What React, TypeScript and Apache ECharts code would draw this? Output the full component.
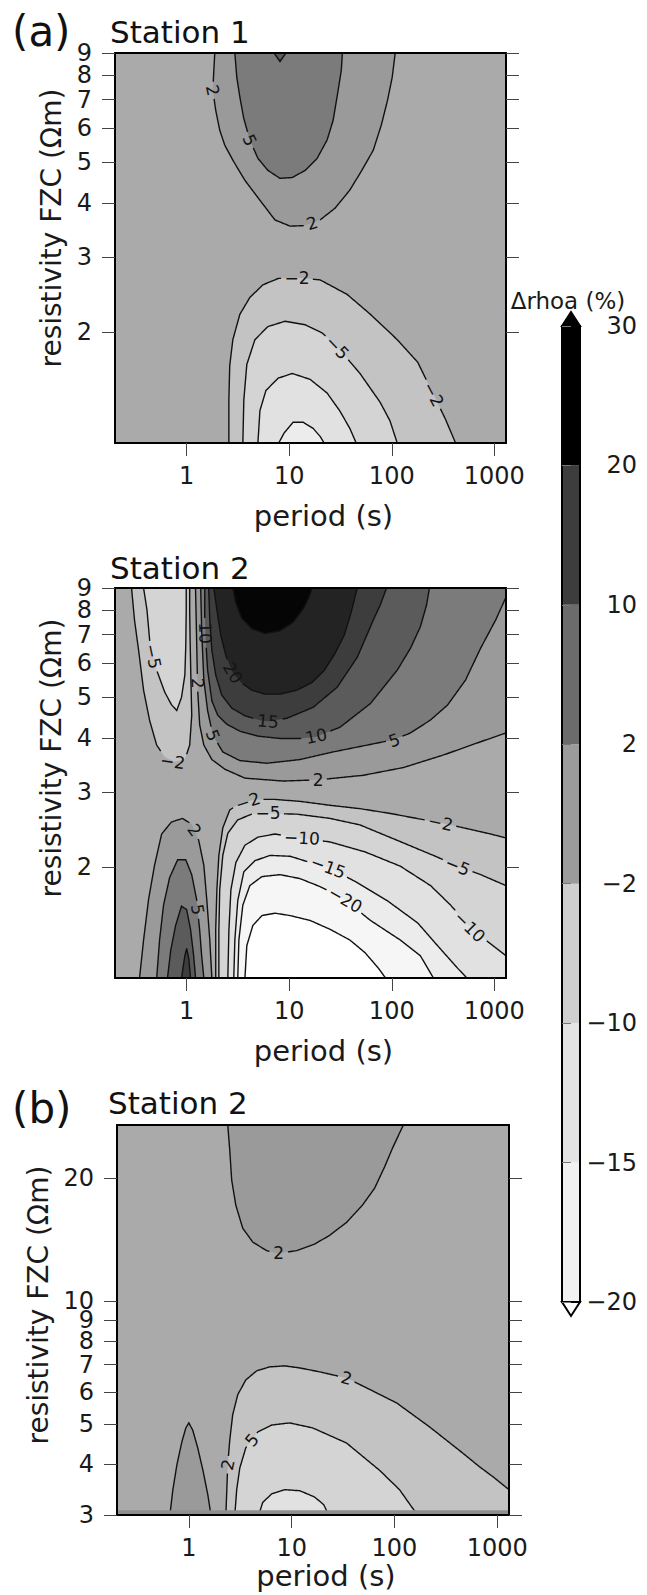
import React, { useEffect, useRef } from 'react';
import * as echarts from 'echarts';

type Pt = [number, number];

const FONT = 'DejaVu Sans';

// axis ranges: period (s) and resistivity FZC (Ωm)
const PERIOD_MIN = 0.2;
const PERIOD_MAX = 1300;
const RHO_MIN_A = 1.1;
const RHO_MAX_A = 9;
const RHO_MIN_B = 3;
const RHO_MAX_B = 27;

const periodTicks = [1, 10, 100, 1000];
const rhoTicksA = [2, 3, 4, 5, 6, 7, 8, 9];
const rhoTicksB = [3, 4, 5, 6, 7, 8, 9, 10, 20];
// tick labels that sit too close to a neighbour are put on a second label row
const rhoCrowdedA = [8];
const rhoCrowdedB = [8, 10];

// colour bar
const cbLevels = [-20, -15, -10, -2, 2, 10, 20, 30];
const cbColors = ['#f1f1f1', '#e4e4e4', '#cfcfcf', '#9b9b9b', '#6b6b6b', '#3d3d3d', '#000000'];

// contour level bands -> grey fills
const bandEdges = [-30, -20, -15, -10, -5, -2, 2, 5, 10, 15, 20, 30];
const bandGrays = ['#ffffff', '#f6f6f6', '#ececec', '#e1e1e1', '#d4d4d4', '#c3c3c3', '#aaaaaa', '#9a9a9a', '#7b7b7b', '#5b5b5b', '#3d3d3d', '#232323', '#050505'];

// ---------- (a) Station 1 contours [period, resistivity] ----------
const c1_p2: Pt[] = [[1.88, 9], [1.84, 8.2], [1.8, 7.36], [1.92, 6.61], [2.1, 5.94], [2.35, 5.48], [2.82, 5.05], [3.7, 4.53], [5.18, 4.07], [7.26, 3.66], [10.2, 3.54], [14.3, 3.55], [20, 3.66], [28, 3.9], [39, 4.3], [51, 4.78], [66, 5.33], [79, 6.1], [91, 6.98], [101, 7.9], [108, 9]];
const c1_p5: Pt[] = [[2.95, 9], [3.08, 7.9], [3.3, 7.1], [3.6, 6.33], [4.13, 5.63], [4.95, 5.1], [6.2, 4.78], [8.13, 4.58], [10.7, 4.6], [14.3, 4.78], [18.7, 5.1], [23.4, 5.63], [26.8, 6.26], [30, 7.36], [32.2, 8.2], [33, 9]];
const c1_p10: Pt[] = [[7.1, 9], [8.13, 8.6], [9.3, 9]];
const c1_m2: Pt[] = [[2.58, 1.1], [2.58, 1.39], [2.63, 1.67], [2.82, 1.92], [3.3, 2.2], [4.13, 2.41], [5.54, 2.58], [7.8, 2.67], [11.9, 2.68], [20, 2.65], [36.7, 2.45], [62, 2.2], [113, 1.92], [179, 1.7], [255, 1.43], [334, 1.25], [419, 1.1]];
const c1_m5: Pt[] = [[3.53, 1.1], [3.61, 1.39], [3.86, 1.68], [4.63, 1.92], [6.2, 2.06], [9.1, 2.12], [14.3, 2.08], [21, 1.99], [31, 1.82], [49, 1.6], [77, 1.37], [96, 1.24], [113, 1.1]];
const c1_m10: Pt[] = [[4.95, 1.1], [5.18, 1.31], [5.93, 1.46], [7.8, 1.56], [10.7, 1.6], [16, 1.55], [23.4, 1.44], [31, 1.31], [39, 1.19], [45, 1.1]];
const c1_m15: Pt[] = [[7.9, 1.1], [8.9, 1.16], [10.9, 1.23], [13.7, 1.23], [17.1, 1.19], [20, 1.14], [21.9, 1.1]];

// ---------- (a) Station 2 contours ----------
const c2_m2L: Pt[] = [[0.29, 9], [0.31, 7.57], [0.34, 6.43], [0.38, 5.19], [0.435, 4.41], [0.51, 3.86], [0.61, 3.62], [0.76, 3.53], [0.96, 3.57], [1.07, 3.86], [1.12, 4.53], [1.1, 5.48], [1.08, 6.8], [1.07, 7.9], [1.07, 9]];
const c2_m5L: Pt[] = [[0.38, 9], [0.41, 8.0], [0.44, 6.61], [0.51, 5.78], [0.61, 5.14], [0.71, 4.8], [0.8, 4.65], [0.89, 4.99], [0.96, 5.63], [0.98, 6.61], [0.99, 8.0], [0.99, 9]];
const c2_p2U: Pt[] = [[1.22, 9], [1.25, 6.8], [1.28, 5.19], [1.34, 4.3], [1.47, 3.86], [1.76, 3.57], [2.35, 3.39], [3.7, 3.23], [8.7, 3.18], [19.1, 3.2], [52.7, 3.28], [130, 3.42], [320, 3.66], [736, 3.93], [1300, 4.12]];
const c2_p5U: Pt[] = [[1.37, 9], [1.4, 7.16], [1.47, 5.48], [1.6, 4.65], [1.8, 4.07], [2.25, 3.72], [3.3, 3.55], [6.06, 3.5], [12.7, 3.57], [26.8, 3.72], [57.6, 3.86], [103, 3.97], [152, 4.12], [239, 4.42], [350, 4.79], [524, 5.48], [736, 6.51], [1030, 7.57], [1300, 8.57]];
const c2_p10U: Pt[] = [[1.5, 9], [1.5, 7.78], [1.53, 6.9], [1.6, 5.78], [1.76, 4.9], [2.01, 4.53], [2.46, 4.32], [3.3, 4.16], [4.95, 4.05], [8.13, 4.0], [12.7, 4.0], [17.9, 4.03], [31.3, 4.25], [62, 4.83], [113, 5.78], [152, 6.5], [190, 7.3], [218, 8.2], [233, 9]];
const c2_p15U: Pt[] = [[1.64, 9], [1.68, 7.57], [1.76, 6.43], [1.92, 5.63], [2.2, 5.05], [2.76, 4.71], [3.7, 4.52], [5.18, 4.41], [6.2, 4.39], [9.5, 4.46], [17.1, 4.73], [29.3, 5.27], [46, 6.19], [66, 7.57], [77, 8.2], [89, 9]];
const c2_p20U: Pt[] = [[1.84, 9], [1.97, 8.0], [2.15, 6.98], [2.41, 6.26], [2.82, 5.7], [3.45, 5.39], [4.32, 5.19], [5.8, 5.08], [8.13, 5.08], [11.9, 5.19], [16.7, 5.41], [21.8, 5.76], [28, 6.33], [34.4, 6.98], [40, 7.86], [46, 9]];
const c2_p30U: Pt[] = [[2.82, 9], [3.02, 8.3], [3.45, 7.65], [4.32, 7.23], [5.8, 7.04], [8.13, 7.15], [10.9, 7.48], [13.7, 8.05], [15.6, 8.57], [16.7, 9]];
const c2_p2L: Pt[] = [[0.347, 1.1], [0.38, 1.35], [0.425, 1.68], [0.486, 2.02], [0.57, 2.39], [0.71, 2.55], [0.91, 2.6], [1.12, 2.52], [1.31, 2.31], [1.47, 2.02], [1.57, 1.68], [1.68, 1.35], [1.76, 1.1]];
const c2_p5L: Pt[] = [[0.51, 1.1], [0.544, 1.35], [0.595, 1.63], [0.682, 1.89], [0.816, 2.08], [0.98, 2.08], [1.12, 1.92], [1.25, 1.68], [1.34, 1.42], [1.4, 1.24], [1.47, 1.1]];
const c2_p10L: Pt[] = [[0.65, 1.1], [0.7, 1.28], [0.78, 1.46], [0.89, 1.62], [1.0, 1.59], [1.09, 1.43], [1.17, 1.24], [1.22, 1.1]];
const c2_p15L: Pt[] = [[0.89, 1.1], [0.96, 1.24], [1.0, 1.29], [1.05, 1.22], [1.09, 1.1]];
const c2_m2R: Pt[] = [[1.92, 1.1], [1.92, 1.43], [1.97, 1.77], [2.06, 2.13], [2.25, 2.47], [2.63, 2.72], [3.3, 2.82], [4.63, 2.88], [7.26, 2.88], [12.7, 2.85], [25, 2.79], [49, 2.74], [97, 2.67], [190, 2.59], [299, 2.54], [587, 2.45], [920, 2.39], [1300, 2.34]];
const c2_m5R: Pt[] = [[2.06, 1.1], [2.06, 1.42], [2.1, 1.77], [2.25, 2.13], [2.52, 2.4], [3.15, 2.58], [4.32, 2.66], [6.2, 2.67], [11.9, 2.66], [25, 2.6], [49, 2.51], [113, 2.31], [279, 2.11], [438, 2.01], [736, 1.92], [1300, 1.81]];
const c2_m10R: Pt[] = [[2.52, 1.1], [2.58, 1.42], [2.7, 1.77], [3.02, 2.05], [3.7, 2.25], [4.95, 2.35], [7.26, 2.39], [12.7, 2.34], [25, 2.29], [55, 2.17], [121, 2.01], [239, 1.81], [374, 1.63], [548, 1.47], [823, 1.35], [1300, 1.24]];
const c2_m15R: Pt[] = [[2.88, 1.1], [2.95, 1.35], [3.15, 1.67], [3.61, 1.95], [4.63, 2.07], [6.5, 2.13], [10.2, 2.12], [16, 2.05], [23.9, 2.0], [46, 1.84], [90, 1.67], [179, 1.48], [279, 1.31], [438, 1.16], [540, 1.1]];
const c2_m20R: Pt[] = [[3.15, 1.1], [3.23, 1.35], [3.53, 1.63], [4.13, 1.81], [5.42, 1.9], [8.13, 1.92], [12.7, 1.88], [20, 1.8], [33.6, 1.69], [62, 1.5], [121, 1.35], [190, 1.24], [255, 1.1]];
const c2_m30R: Pt[] = [[3.7, 1.1], [3.86, 1.31], [4.42, 1.46], [5.42, 1.54], [7.26, 1.56], [10.2, 1.54], [16, 1.5], [25, 1.43], [39, 1.35], [55, 1.26], [74, 1.16], [87, 1.1]];

// ---------- (b) Station 2 contours ----------
const c3_p2U: Pt[] = [[2.39, 27], [2.5, 23.4], [2.61, 19.8], [2.86, 17.2], [3.34, 15.1], [4.18, 13.96], [5.72, 13.3], [7.31, 13.1], [11.2, 13.3], [16.7, 13.8], [23.4, 14.5], [34.2, 15.6], [48.9, 17.2], [64, 18.9], [80, 21.3], [95.7, 23.7], [112, 25.8], [122, 27]];
const c3_p2L: Pt[] = [[0.654, 3], [0.699, 3.46], [0.765, 3.98], [0.855, 4.53], [0.935, 4.9], [1.0, 5.04], [1.09, 4.84], [1.22, 4.38], [1.37, 3.86], [1.53, 3.36], [1.64, 3]];
const c3_m2: Pt[] = [[2.29, 3], [2.34, 3.46], [2.39, 3.98], [2.5, 4.58], [2.67, 5.28], [2.99, 5.91], [3.58, 6.42], [4.57, 6.76], [6.11, 6.91], [8.55, 6.95], [12, 6.87], [18.7, 6.72], [34.2, 6.49], [53.5, 6.14], [105, 5.64], [219, 4.93], [457, 4.26], [669, 3.94], [935, 3.7], [1300, 3.46]];
const c3_m5: Pt[] = [[2.8, 3], [2.92, 3.46], [3.13, 3.91], [3.58, 4.38], [4.68, 4.79], [6.4, 4.98], [9.56, 5.04], [16, 4.9], [34.2, 4.5], [71.5, 3.86], [112, 3.46], [167, 3]];
const c3_m10: Pt[] = [[4.78, 3], [5.23, 3.22], [6.4, 3.38], [8.55, 3.46], [12, 3.44], [16.7, 3.32], [20.5, 3.18], [22.9, 3]];
const c3_strip: number[] = [3, 3.08];

// contour labels: text, period, resistivity, angle, index of the contour it sits on
interface Label { t: string; p: number; r: number; a: number; k: number }
const labels1: Label[] = [
  { t: '2', p: 1.8, r: 7.36, a: -78, k: 0 },
  { t: '5', p: 4.13, r: 5.63, a: -65, k: 1 },
  { t: '2', p: 16.7, r: 3.6, a: 18, k: 0 },
  { t: '−2', p: 11.9, r: 2.68, a: 0, k: 3 },
  { t: '−5', p: 29.4, r: 1.84, a: -46, k: 4 },
  { t: '−2', p: 255, r: 1.43, a: -62, k: 3 },
];
const labels2: Label[] = [
  { t: '10', p: 1.52, r: 7.06, a: -88, k: 4 },
  { t: '2', p: 1.28, r: 5.39, a: -88, k: 2 },
  { t: '20', p: 2.82, r: 5.7, a: -60, k: 6 },
  { t: '5', p: 1.8, r: 4.07, a: -68, k: 3 },
  { t: '15', p: 6.2, r: 4.39, a: -5, k: 5 },
  { t: '10', p: 18.3, r: 4.05, a: 12, k: 4 },
  { t: '5', p: 106, r: 3.96, a: 20, k: 3 },
  { t: '2', p: 19.1, r: 3.2, a: 0, k: 2 },
  { t: '−5', p: 0.47, r: 6.23, a: -78, k: 1 },
  { t: '−2', p: 0.73, r: 3.53, a: -8, k: 0 },
  { t: '2', p: 1.19, r: 2.44, a: -54, k: 8 },
  { t: '5', p: 1.28, r: 1.59, a: -80, k: 9 },
  { t: '−2', p: 3.95, r: 2.85, a: 18, k: 12 },
  { t: '−5', p: 6.2, r: 2.67, a: 0, k: 13 },
  { t: '−10', p: 13.3, r: 2.34, a: -3, k: 14 },
  { t: '−15', p: 24, r: 2.0, a: -20, k: 15 },
  { t: '−20', p: 35.2, r: 1.68, a: -30, k: 16 },
  { t: '−2', p: 299, r: 2.54, a: -12, k: 12 },
  { t: '−5', p: 438, r: 2.01, a: -22, k: 13 },
  { t: '−10', p: 574, r: 1.45, a: -45, k: 14 },
];
const labels3: Label[] = [
  { t: '2', p: 7.48, r: 13.1, a: 0, k: 0 },
  { t: '2', p: 34.2, r: 6.49, a: -15, k: 2 },
  { t: '5', p: 4.1, r: 4.58, a: 50, k: 3 },
  { t: '2', p: 2.39, r: 3.98, a: 78, k: 2 },
];

interface Contour { pts: Pt[]; level: number; close?: Pt[] }

const panel1: Contour[] = [
  { pts: c1_p2, level: 2 }, { pts: c1_p5, level: 5 }, { pts: c1_p10, level: 10 },
  { pts: c1_m2, level: -2 }, { pts: c1_m5, level: -5 }, { pts: c1_m10, level: -10 }, { pts: c1_m15, level: -15 },
];
const panel2: Contour[] = [
  { pts: c2_m2L, level: -2 }, { pts: c2_m5L, level: -5 },
  { pts: c2_p2U, level: 2, close: [[PERIOD_MAX, RHO_MAX_A]] }, { pts: c2_p5U, level: 5, close: [[PERIOD_MAX, RHO_MAX_A]] },
  { pts: c2_p10U, level: 10 }, { pts: c2_p15U, level: 15 }, { pts: c2_p20U, level: 20 }, { pts: c2_p30U, level: 30 },
  { pts: c2_p2L, level: 2 }, { pts: c2_p5L, level: 5 }, { pts: c2_p10L, level: 10 }, { pts: c2_p15L, level: 15 },
  { pts: c2_m2R, level: -2, close: [[PERIOD_MAX, RHO_MIN_A]] }, { pts: c2_m5R, level: -5, close: [[PERIOD_MAX, RHO_MIN_A]] },
  { pts: c2_m10R, level: -10, close: [[PERIOD_MAX, RHO_MIN_A]] }, { pts: c2_m15R, level: -15 }, { pts: c2_m20R, level: -20 }, { pts: c2_m30R, level: -30 },
];
const panel3: Contour[] = [
  { pts: c3_p2U, level: 2 }, { pts: c3_p2L, level: 2 },
  { pts: c3_m2, level: -2, close: [[PERIOD_MAX, RHO_MIN_B]] }, { pts: c3_m5, level: -5 }, { pts: c3_m10, level: -10 },
];

const lg = Math.log10;
const EPS = 1e-6;
const LABEL_SIZE = 17;
const fillColor = (v: number) => {
  let i = 0;
  while (i < bandEdges.length && v > bandEdges[i]) i++;
  return bandGrays[i];
};
const fmtPow = (v: number) => String(Math.round(Math.pow(10, v)));
const fmtSigned = (v: number) => (v < 0 ? '−' + Math.abs(v) : String(v));
const labelHalfWidth = (t: string) => {
  let w = 0;
  for (const ch of t) w += ch === '−' ? 0.838 : 0.636;
  return (w * LABEL_SIZE) / 2;
};

const txt = (size: number) => ({ fontSize: size, fontFamily: FONT, color: '#1a1a1a' });

const PANEL_RECTS = [
  { left: 115, top: 53, width: 391, height: 390 },
  { left: 115, top: 588, width: 391, height: 390 },
  { left: 117, top: 1125, width: 392, height: 390 },
];

function panelAxes(k: number, yMin: number, yMax: number, yTicks: number[], crowded: number[], xNameGap: number, yNamePad: number) {
  const line = { show: true, onZero: false, lineStyle: { color: '#000', width: 2 } };
  const xBase = { gridIndex: k, type: 'value', min: lg(PERIOD_MIN) - EPS, max: lg(PERIOD_MAX) + EPS, splitLine: { show: false }, z: 10 };
  const yBase = { gridIndex: k, type: 'value', min: lg(yMin) - EPS, max: lg(yMax) + EPS, splitLine: { show: false }, z: 10 };
  const xv = periodTicks.map(lg);
  const yv = yTicks.map(lg);
  const yMain = yTicks.filter((v) => crowded.indexOf(v) < 0).map(lg);
  const yExtra = crowded.map(lg);
  const yLabel = { show: true, formatter: fmtPow, margin: 23, showMinLabel: true, showMaxLabel: true, hideOverlap: false, ...txt(24) };
  return {
    x: [
      {
        ...xBase, position: 'bottom', axisLine: line,
        axisTick: { show: true, inside: false, length: 13, customValues: xv, lineStyle: { color: '#444', width: 1 } },
        axisLabel: { show: true, customValues: xv, formatter: fmtPow, margin: 21, showMinLabel: true, showMaxLabel: true, ...txt(24) },
        name: 'period (s)', nameLocation: 'middle', nameGap: xNameGap,
        nameTextStyle: { ...txt(29), padding: [0, 0, 0, 26] },
      },
      { ...xBase, position: 'top', axisLine: line, axisTick: { show: false }, axisLabel: { show: false } },
    ],
    y: [
      {
        ...yBase, position: 'left', axisLine: line,
        axisTick: { show: true, inside: false, length: 13, customValues: yv, lineStyle: { color: '#444', width: 1 } },
        axisLabel: { ...yLabel, customValues: yMain },
        name: 'resistivity FZC (Ωm)', nameLocation: 'middle', nameGap: 50, nameRotate: 90,
        nameTextStyle: { ...txt(28), padding: [0, 0, 0, yNamePad] },
      },
      {
        ...yBase, position: 'right', axisLine: line,
        axisTick: { show: true, inside: false, length: 13, customValues: yv, lineStyle: { color: '#444', width: 1 } },
        axisLabel: { show: false },
      },
    ],
    xExtra: { ...xBase, gridIndex: 4 + k, show: false },
    yExtra: {
      ...yBase, gridIndex: 4 + k, position: 'left', axisLine: { show: false }, axisTick: { show: false },
      axisLabel: { ...yLabel, customValues: yExtra },
    },
  };
}

function panelSeries(k: number, contours: Contour[], labels: Label[]) {
  const ax = { xAxisIndex: 2 * k, yAxisIndex: 2 * k, silent: true, coordinateSystem: 'cartesian2d' };
  const toPx = (api: any, p: Pt) => api.coord([lg(p[0]), lg(p[1])]);
  const anchor = (p: Pt) => [lg(p[0]), lg(p[1])];
  return [
    {
      type: 'custom', ...ax, z: 2,
      data: contours.map((c) => anchor(c.pts[0])),
      renderItem: (params: any, api: any) => {
        const c = contours[params.dataIndex];
        const pts = c.pts.concat(c.close || []).map((p) => toPx(api, p));
        return { type: 'polygon', shape: { points: pts }, style: { fill: fillColor(c.level + Math.sign(c.level) * 0.5), stroke: null } };
      },
    },
    {
      type: 'custom', ...ax, z: 3,
      data: contours.map((c) => anchor(c.pts[0])),
      renderItem: (params: any, api: any) => {
        const idx = params.dataIndex;
        const c = contours[idx];
        // gaps in the line where its own labels sit
        const holes = labels.filter((l) => l.k === idx).map((l) => ({ c: toPx(api, [l.p, l.r]), r: labelHalfWidth(l.t) + 3 }));
        const px = c.pts.map((p) => toPx(api, p));
        const runs: number[][][] = [];
        let cur: number[][] = [];
        for (let i = 0; i < px.length - 1; i++) {
          const a = px[i];
          const b = px[i + 1];
          const n = Math.max(1, Math.ceil(Math.hypot(b[0] - a[0], b[1] - a[1]) / 1.5));
          for (let s = i === 0 ? 0 : 1; s <= n; s++) {
            const t = s / n;
            const q = [a[0] + (b[0] - a[0]) * t, a[1] + (b[1] - a[1]) * t];
            const inside = holes.some((h) => Math.hypot(q[0] - h.c[0], q[1] - h.c[1]) < h.r);
            if (inside) {
              if (cur.length > 1) runs.push(cur);
              cur = [];
            } else {
              cur.push(q);
            }
          }
        }
        if (cur.length > 1) runs.push(cur);
        return {
          type: 'group',
          children: runs.map((r) => ({ type: 'polyline', shape: { points: r }, style: { stroke: '#111', lineWidth: 1.4, fill: null } })),
        };
      },
    },
    {
      type: 'custom', ...ax, z: 5,
      data: labels.map((l) => anchor([l.p, l.r])),
      renderItem: (params: any, api: any) => {
        const l = labels[params.dataIndex];
        const pt = toPx(api, [l.p, l.r]);
        return {
          type: 'text', x: pt[0], y: pt[1], rotation: (l.a * Math.PI) / 180,
          style: { text: l.t, fontSize: LABEL_SIZE, fontFamily: FONT, fill: '#141414', align: 'center', verticalAlign: 'middle' },
        };
      },
    },
  ];
}

export default function App() {
  const ref = useRef<HTMLDivElement>(null);
  useEffect(() => {
    if (!ref.current) return;
    const chart = echarts.init(ref.current, null, { renderer: 'svg' });
    const a1 = panelAxes(0, RHO_MIN_A, RHO_MAX_A, rhoTicksA, rhoCrowdedA, 58, 40);
    const a2 = panelAxes(1, RHO_MIN_A, RHO_MAX_A, rhoTicksA, rhoCrowdedA, 58, 50);
    const a3 = panelAxes(2, RHO_MIN_B, RHO_MAX_B, rhoTicksB, rhoCrowdedB, 46, 30);
    const gridBase = { show: true, backgroundColor: '#aaaaaa', borderWidth: 0, containLabel: false, outerBoundsMode: 'none' };
    const hiddenGrid = { show: false, containLabel: false, outerBoundsMode: 'none' };
    const option: any = {
      animation: false,
      textStyle: { fontFamily: FONT },
      grid: [
        { ...gridBase, ...PANEL_RECTS[0] },
        { ...gridBase, ...PANEL_RECTS[1] },
        { ...gridBase, ...PANEL_RECTS[2] },
        { ...hiddenGrid, left: 562, top: 326, width: 18, height: 976 },
        { ...hiddenGrid, ...PANEL_RECTS[0] },
        { ...hiddenGrid, ...PANEL_RECTS[1] },
        { ...hiddenGrid, ...PANEL_RECTS[2] },
      ],
      xAxis: [
        ...a1.x, ...a2.x, ...a3.x,
        { gridIndex: 3, type: 'value', min: 0, max: 1, show: false },
        a1.xExtra, a2.xExtra, a3.xExtra,
      ],
      yAxis: [
        ...a1.y, ...a2.y, ...a3.y,
        {
          gridIndex: 3, type: 'value', min: 0, max: cbLevels.length - 1, interval: 1, position: 'right',
          axisLine: { show: false }, splitLine: { show: false },
          axisTick: { show: true, inside: false, length: 9, lineStyle: { color: '#777', width: 1 } },
          axisLabel: { formatter: (v: number) => fmtSigned(cbLevels[Math.round(v)]), align: 'right', margin: 57, showMinLabel: true, showMaxLabel: true, ...txt(24) },
          name: 'Δrhoa (%)', nameLocation: 'end', nameGap: 14, nameTextStyle: { ...txt(23), align: 'center', padding: [0, 0, 0, 12] }, z: 10,
        },
        a1.yExtra, a2.yExtra, a3.yExtra,
      ],
      series: [
        ...panelSeries(0, panel1, labels1),
        ...panelSeries(1, panel2, labels2),
        ...panelSeries(2, panel3, labels3),
        {
          type: 'custom', xAxisIndex: 4, yAxisIndex: 4, silent: true, z: 4,
          data: [[lg(PERIOD_MIN), lg(c3_strip[0])]],
          renderItem: (params: any, api: any) => {
            const a = api.coord([lg(PERIOD_MIN), lg(c3_strip[1])]);
            const b = api.coord([lg(PERIOD_MAX), lg(c3_strip[0])]);
            return { type: 'rect', shape: { x: a[0], y: a[1], width: b[0] - a[0], height: b[1] - a[1] }, style: { fill: '#8e8e8e' } };
          },
        },
        {
          type: 'custom', xAxisIndex: 6, yAxisIndex: 6, silent: true, z: 3,
          data: [...cbColors.map((_, i) => [0.5, i + 0.5]), [0.5, 7], [0.5, 0], [0.5, 3.5]],
          renderItem: (params: any, api: any) => {
            const i = params.dataIndex;
            const n = cbColors.length;
            if (i < n) {
              const a = api.coord([0, i + 1]);
              const b = api.coord([1, i]);
              return { type: 'rect', shape: { x: a[0], y: a[1], width: b[0] - a[0], height: b[1] - a[1] }, style: { fill: cbColors[i] } };
            }
            if (i === n) {
              const pts = [api.coord([0, n]), api.coord([1, n]), api.coord([0.5, n + 0.1])];
              return { type: 'polygon', shape: { points: pts }, style: { fill: '#000', stroke: '#000', lineWidth: 2 } };
            }
            if (i === n + 1) {
              const pts = [api.coord([0, 0]), api.coord([1, 0]), api.coord([0.5, -0.1])];
              return { type: 'polygon', shape: { points: pts }, style: { fill: '#fff', stroke: '#000', lineWidth: 2 } };
            }
            const a = api.coord([0, n]);
            const b = api.coord([1, 0]);
            return { type: 'rect', shape: { x: a[0], y: a[1], width: b[0] - a[0], height: b[1] - a[1] }, style: { fill: null, stroke: '#000', lineWidth: 2 } };
          },
        },
      ],
      graphic: [
        { type: 'text', x: 12, y: 31, style: { text: '(a)', fontSize: 42, fontFamily: FONT, fill: '#111', verticalAlign: 'middle' } },
        { type: 'text', x: 110, y: 32, style: { text: 'Station 1', fontSize: 31, fontFamily: FONT, fill: '#111', verticalAlign: 'middle' } },
        { type: 'text', x: 110, y: 568, style: { text: 'Station 2', fontSize: 31, fontFamily: FONT, fill: '#111', verticalAlign: 'middle' } },
        { type: 'text', x: 12, y: 1108, style: { text: '(b)', fontSize: 42, fontFamily: FONT, fill: '#111', verticalAlign: 'middle' } },
        { type: 'text', x: 108, y: 1103, style: { text: 'Station 2', fontSize: 31, fontFamily: FONT, fill: '#111', verticalAlign: 'middle' } },
      ],
    };
    chart.setOption(option);
    return () => chart.dispose();
  }, []);
  return <div ref={ref} style={{ position: 'absolute', left: 0, top: 0, width: 647, height: 1595 }} />;
}
